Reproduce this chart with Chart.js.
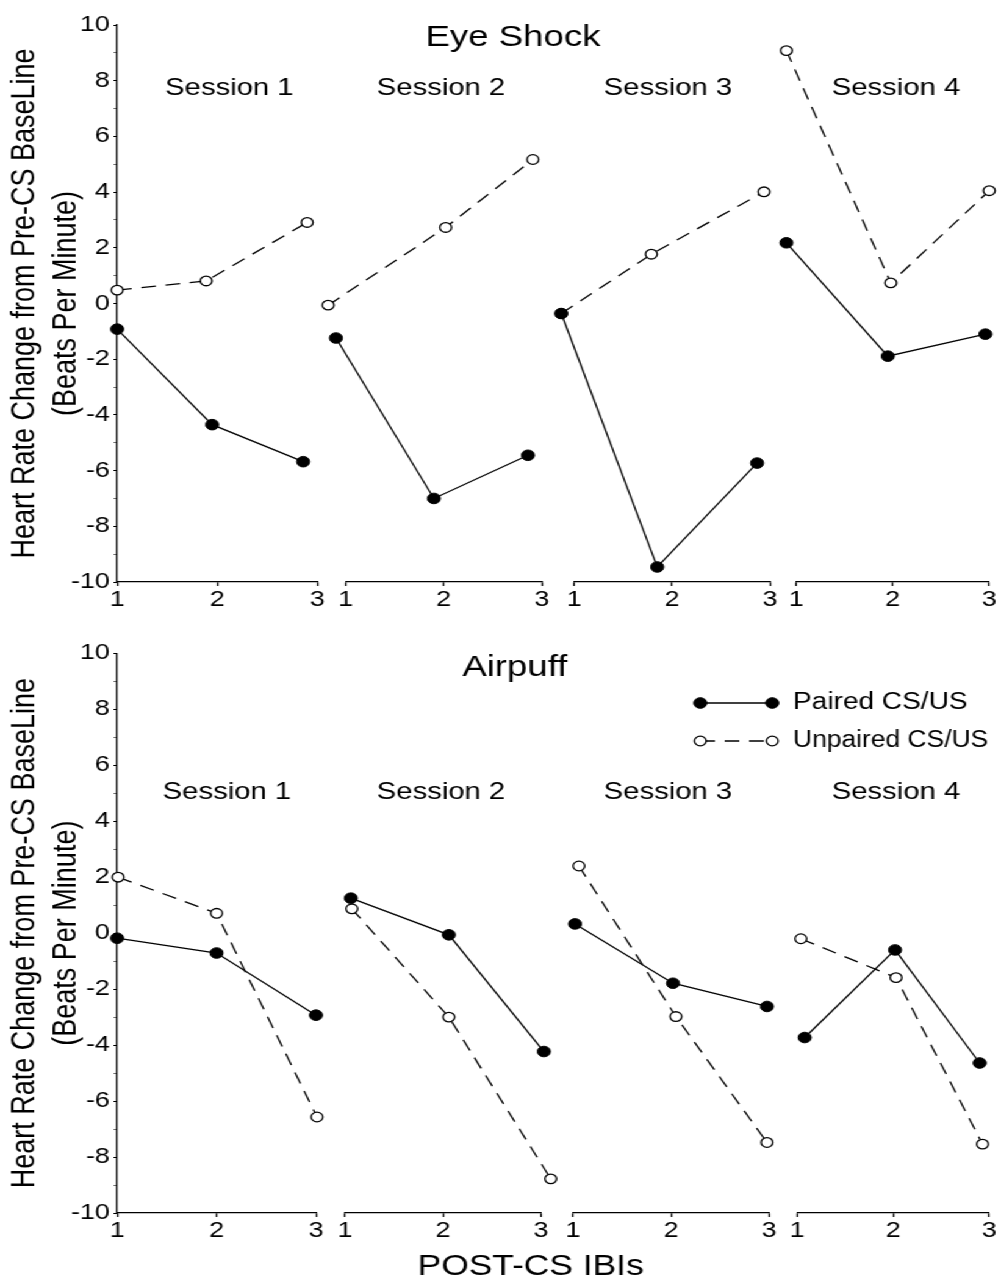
<!DOCTYPE html>
<html><head><meta charset="utf-8">
<script src="https://cdn.jsdelivr.net/npm/chart.js@4/dist/chart.umd.min.js"></script>
<style>
html,body{margin:0;padding:0;background:#fff;overflow:hidden;width:998px;height:1284px;}
#wrap{position:absolute;left:0;top:0;width:818px;height:1284px;transform:scaleX(1.22);transform-origin:0 0;}
#wrap canvas{position:absolute;left:0;}
</style></head><body>
<div id="wrap"></div>
<script>
// ---------------- DATA ----------------
const panelTitles = ['Eye Shock', 'Airpuff'];
const sessionLabels = ['Session 1', 'Session 2', 'Session 3', 'Session 4'];
const seriesNames = ['Paired CS/US', 'Unpaired CS/US'];
const ibiTicks = [1, 2, 3];
const yMin = -10, yMax = 10;
const yTitle = ['Heart Rate Change from Pre-CS BaseLine', '(Beats Per Minute)'];
const xTitle = 'POST-CS IBIs';

// Eye Shock: IBI position and heart-rate change, one inner list per session
const eyePairedX   = [[1.00, 1.95, 2.86], [0.90, 1.90, 2.86], [0.87, 1.85, 2.87], [0.90, 1.95, 2.96]];
const eyePairedY   = [[-0.92, -4.35, -5.68], [-1.24, -7.00, -5.45], [-0.36, -9.46, -5.73], [2.18, -1.89, -1.10]];
const eyeUnpairedX = [[1.00, 1.89, 2.90], [0.82, 2.02, 2.91], [0.87, 1.79, 2.94], [0.90, 1.98, 3.00]];
const eyeUnpairedY = [[0.48, 0.81, 2.91], [-0.06, 2.73, 5.17], [-0.36, 1.77, 4.01], [9.08, 0.74, 4.05]];

// Airpuff
const airPairedX   = [[1.00, 2.00, 3.00], [1.06, 2.06, 3.03], [1.02, 2.02, 2.98], [1.08, 2.02, 2.90]];
const airPairedY   = [[-0.18, -0.71, -2.93], [1.25, -0.06, -4.23], [0.33, -1.79, -2.62], [-3.73, -0.60, -4.64]];
const airUnpairedX = [[1.01, 2.00, 3.01], [1.07, 2.06, 3.10], [1.06, 2.05, 2.98], [1.04, 2.03, 2.93]];
const airUnpairedY = [[2.00, 0.71, -6.57], [0.87, -3.00, -8.78], [2.40, -2.98, -7.48], [-0.20, -1.59, -7.54]];

// ---------------- LAYOUT (logical px, whole figure stretched horizontally) ----------------
const FONT = "'Liberation Sans', Arial, Helvetica, sans-serif";
const W = 818;
const panels = [
  { title: panelTitles[0], top: 0, h: 622, padTop: 25, padBottom: 0,
    bounds: [[96, 260], [283.4, 444], [470.5, 631], [652.5, 813]],
    px: eyePairedX, py: eyePairedY, ux: eyeUnpairedX, uy: eyeUnpairedY,
    titlePos: [420.5, 38], labelY: 88, labelX: [188, 361.5, 547.5, 734.4], legend: false, xTitle: false },
  { title: panelTitles[1], top: 622, h: 662, padTop: 31.3, padBottom: 31,
    bounds: [[96, 259], [282.8, 443.4], [469.7, 630.3], [653.3, 813]],
    px: airPairedX, py: airPairedY, ux: airUnpairedX, uy: airUnpairedY,
    titlePos: [422, 46], labelY: 170, labelX: [186, 361.5, 547.5, 734.4], legend: true, xTitle: true }
];

const wrap = document.getElementById('wrap');

// Let markers that sit slightly outside the 1..3 axis still be drawn
const markerAreaPlugin = {
  id: 'markerArea',
  beforeDatasetsDraw(chart) {
    chart._savedArea = chart.chartArea;
    const a = chart.chartArea, m = 60;
    chart.chartArea = { left: a.left - m, right: a.right + m, top: a.top - m, bottom: a.bottom + m,
                        width: a.width + 2 * m, height: a.height + 2 * m };
  },
  afterDatasetsDraw(chart) {
    if (chart._savedArea) chart.chartArea = chart._savedArea;
  }
};

const textPlugin = {
  id: 'figtext',
  afterDraw(chart, args, o) {
    const ctx = chart.ctx;
    ctx.save();
    ctx.fillStyle = '#000';
    (o.items || []).forEach(t => {
      ctx.font = t.size + 'px ' + FONT;
      ctx.textAlign = t.align || 'center';
      ctx.textBaseline = 'middle';
      ctx.fillText(t.text, t.x, t.y);
    });
    if (o.legend) {
      const L = o.legend;
      chart.data.datasets.forEach((ds, i) => {
        const r = L.rows[i];
        ctx.strokeStyle = ds.borderColor;
        ctx.lineWidth = ds.borderWidth;
        ctx.setLineDash(ds.borderDash || []);
        ctx.beginPath(); ctx.moveTo(r.x0, r.y); ctx.lineTo(r.x1, r.y); ctx.stroke();
        ctx.setLineDash([]);
        [r.x0, r.x1].forEach(cx => {
          ctx.beginPath();
          ctx.arc(cx, r.y, ds.pointRadius, 0, Math.PI * 2);
          ctx.fillStyle = ds.pointBackgroundColor; ctx.fill();
          ctx.lineWidth = ds.pointBorderWidth; ctx.strokeStyle = ds.pointBorderColor; ctx.stroke();
        });
        ctx.fillStyle = '#000';
        ctx.font = L.size + 'px ' + FONT;
        ctx.textAlign = 'left'; ctx.textBaseline = 'middle';
        ctx.fillText(ds.label, L.tx, r.y, L.maxW);
      });
    }
    ctx.restore();
  }
};

panels.forEach(p => {
  sessionLabels.forEach((lab, s) => {
    const cv = document.createElement('canvas');
    cv.width = W; cv.height = p.h;
    cv.style.top = p.top + 'px';
    cv.style.width = W + 'px'; cv.style.height = p.h + 'px';
    wrap.appendChild(cv);
    const [x0, x1] = p.bounds[s];
    const first = s === 0;
    const items = [{ text: lab, x: p.labelX[s], y: p.labelY, size: 24 }];
    if (first) items.push({ text: p.title, x: p.titlePos[0], y: p.titlePos[1], size: 30 });
    if (first && p.xTitle) items.push({ text: xTitle, x: 435, y: 645, size: 29 });
    const legendOpt = (p.legend && s === 3) ? {
      size: 23, tx: 650, maxW: 160,
      rows: [ { x0: 574, x1: 633, y: 81 },
              { x0: 574, x1: 633, y: 119 } ] } : null;

    new Chart(cv, {
      type: 'line',
      data: {
        datasets: [
          { label: seriesNames[0],
            data: p.px[s].map((x, i) => ({ x, y: p.py[s][i] })),
            borderColor: '#000', backgroundColor: '#000', borderWidth: 1.3,
            pointRadius: 5.3, pointBackgroundColor: '#000', pointBorderColor: '#000', pointBorderWidth: 1,
            tension: 0, clip: false },
          { label: seriesNames[1],
            data: p.ux[s].map((x, i) => ({ x, y: p.uy[s][i] })),
            borderColor: '#000', backgroundColor: '#fff', borderWidth: 1.3, borderDash: [12, 8],
            pointRadius: 4.8, pointBackgroundColor: '#fff', pointBorderColor: '#000', pointBorderWidth: 1.3,
            tension: 0, clip: false }
        ]
      },
      options: {
        responsive: false, animation: false, devicePixelRatio: 1, events: [],
        layout: { autoPadding: false, padding: { left: first ? 0 : x0, right: W - x1, top: p.padTop, bottom: p.padBottom } },
        plugins: {
          legend: { display: false }, tooltip: { enabled: false },
          figtext: { items, legend: legendOpt }
        },
        scales: {
          x: {
            type: 'linear', min: ibiTicks[0], max: ibiTicks[ibiTicks.length - 1],
            afterFit(sc) { sc.height = 40; },
            afterBuildTicks(sc) { sc.ticks = ibiTicks.map(v => ({ value: v })); },
            ticks: { font: { family: FONT, size: 22 }, color: '#000', padding: 1, maxRotation: 0, autoSkip: false },
            grid: { drawOnChartArea: false, drawTicks: true, tickLength: 4, tickColor: '#000', tickWidth: 1.3 },
            border: { display: true, color: '#000', width: 1.3 }
          },
          y: {
            display: first, min: yMin, max: yMax,
            afterFit(sc) { sc.width = first ? 96 : 0; },
            ticks: { stepSize: 1, autoSkip: false, color: '#000', padding: 3,
                     font: { family: FONT, size: 22 },
                     callback: v => (v % 2 === 0 ? String(v) : '') },
            grid: { drawOnChartArea: false, drawTicks: true, tickLength: 3,
                    tickColor: c => (c.tick && c.tick.value % 2 === 0 ? '#000' : '#777'), tickWidth: 1.2 },
            border: { display: true, color: '#000', width: 1.3 },
            title: { display: true, text: yTitle, color: '#000',
                     font: { family: FONT, size: 27, lineHeight: 1.244 }, padding: { top: 4, bottom: 0 } }
          }
        }
      },
      plugins: [markerAreaPlugin, textPlugin]
    });
  });
});
</script>
</body></html>
